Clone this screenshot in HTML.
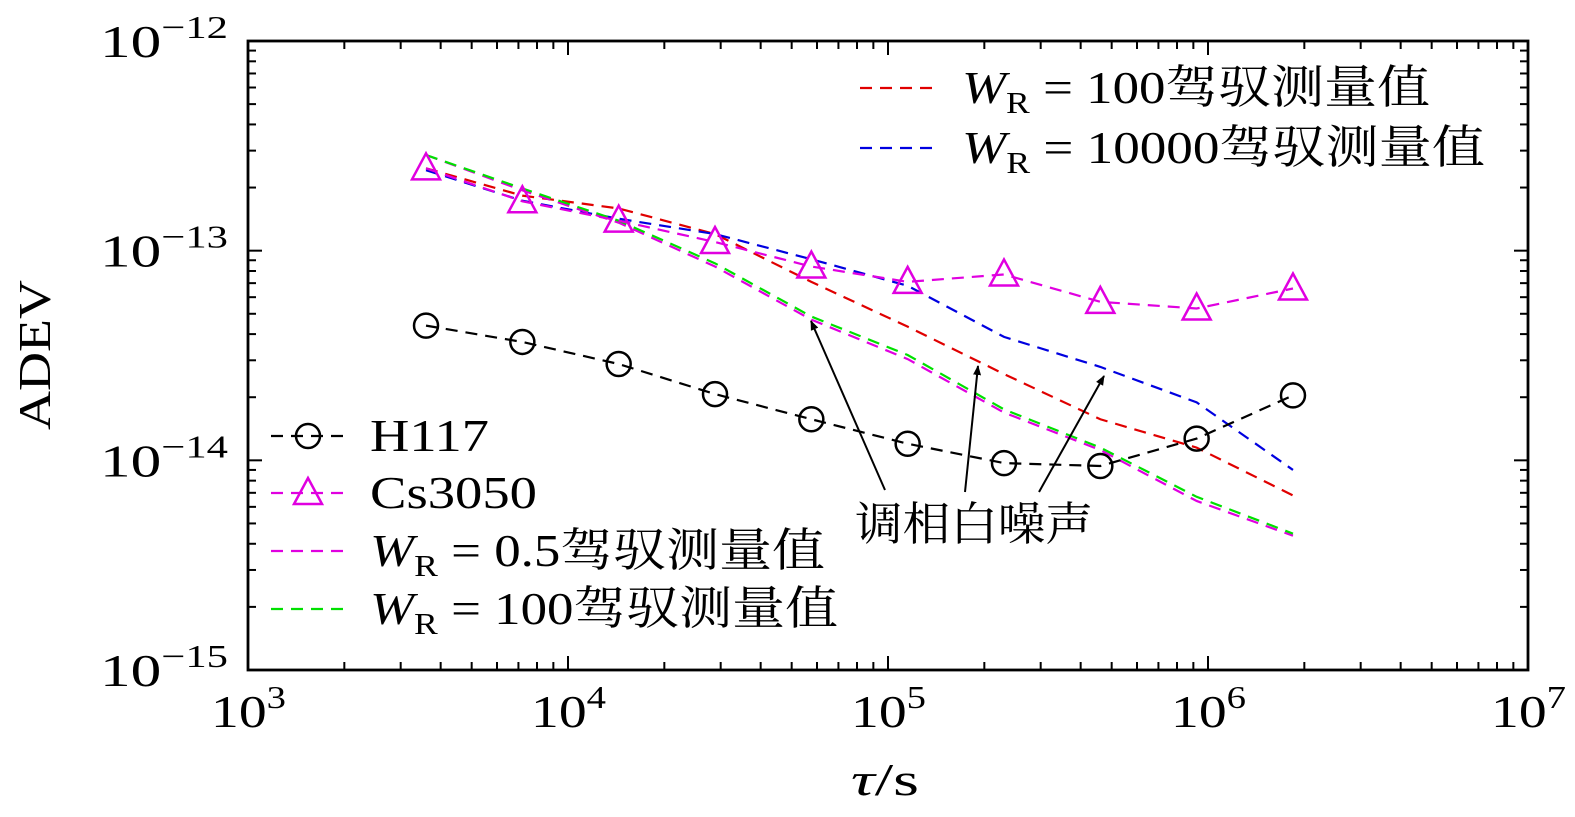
<!DOCTYPE html>
<html><head><meta charset="utf-8"><style>
html,body{margin:0;padding:0;background:#fff;overflow:hidden;}
svg{display:block;}
svg text{font-family:"Liberation Serif","Noto Serif CJK SC",serif;fill:#000;}
</style></head><body>
<svg id="chart" width="1575" height="817" viewBox="0 0 1575 817" xmlns="http://www.w3.org/2000/svg">
<defs><marker id="ah" markerWidth="10" markerHeight="10" refX="9" refY="5" orient="auto" markerUnits="userSpaceOnUse" viewBox="0 0 10 10"><path d="M0,1 L10,5 L0,9 Z" fill="#000"/></marker></defs>
<g id="plot"></g>
</svg>
<script>
const taus=[3600,7200,14400,28800,57600,115200,230400,460800,921600,1843200];
const h117=[4.39e-14,3.67e-14,2.88e-14,2.07e-14,1.57e-14,1.20e-14,9.7e-15,9.4e-15,1.27e-14,2.04e-14];
const cs3050=[2.47e-13,1.72e-13,1.39e-13,1.10e-13,8.4e-14,7.1e-14,7.7e-14,5.7e-14,5.3e-14,6.6e-14];
const wr100red=[2.47e-13,1.83e-13,1.59e-13,1.20e-13,7.1e-14,4.34e-14,2.58e-14,1.57e-14,1.15e-14,6.8e-15];
const wr10000=[2.42e-13,1.73e-13,1.42e-13,1.20e-13,9.1e-14,6.8e-14,3.88e-14,2.79e-14,1.89e-14,9.0e-15];
const wr05=[2.86e-13,1.94e-13,1.36e-13,8.4e-14,4.69e-14,3.04e-14,1.69e-14,1.12e-14,6.4e-15,4.37e-15];
const wr100green=[2.86e-13,1.98e-13,1.39e-13,8.7e-14,4.85e-14,3.18e-14,1.75e-14,1.15e-14,6.7e-15,4.47e-15];
const xTickExp=[3,4,5,6,7];
const yTickExp=[-12,-13,-14,-15];

const L=248,R=1528,T=41,B=670;
const X=v=>L+(Math.log10(v)-3)/4*(R-L);
const Y=v=>T+(-12-Math.log10(v))/3*(B-T);
const NS="http://www.w3.org/2000/svg";
const g=document.getElementById('plot');
function mk(tag,attrs,parent){const e=document.createElementNS(NS,tag);for(const k in attrs)e.setAttribute(k,attrs[k]);(parent||g).appendChild(e);return e;}

const fr=mk('rect',{x:L,y:T,width:R-L,height:B-T,fill:'none',stroke:'#000','stroke-width':2.8});



for(let d=3;d<7;d++){for(let m=1;m<10;m++){const v=m*Math.pow(10,d);const x=X(v);const len=m===1?14:8;
 mk('line',{x1:x,y1:B,x2:x,y2:B-len,stroke:'#000','stroke-width':2});
 mk('line',{x1:x,y1:T,x2:x,y2:T+len,stroke:'#000','stroke-width':2});}}
xTickExp.forEach(e=>{const x=X(Math.pow(10,e));const t=mk('text',{x:x-37,y:727,'font-size':46,textLength:75,lengthAdjust:'spacingAndGlyphs'});
 
 
 t.innerHTML='10<tspan dy="-19" font-size="32">'+e+'</tspan>';});
for(let d=-15;d<-12;d++){for(let m=1;m<10;m++){const v=m*Math.pow(10,d);const y=Y(v);const len=m===1?14:8;
 mk('line',{x1:L,y1:y,x2:L+len,y2:y,stroke:'#000','stroke-width':2});
 mk('line',{x1:R,y1:y,x2:R-len,y2:y,stroke:'#000','stroke-width':2});}}
yTickExp.forEach(e=>{const y=Y(Math.pow(10,e));const t=mk('text',{x:100,y:y+16,'font-size':46,textLength:128,lengthAdjust:'spacingAndGlyphs'});
 
 
 t.innerHTML='10<tspan dy="-19" font-size="32">−'+(-e)+'</tspan>';});

const xt=mk('text',{x:851,y:795,'font-size':46,textLength:68,lengthAdjust:'spacingAndGlyphs'});


xt.innerHTML='<tspan font-style="italic">τ</tspan>/s';
const yt=mk('text',{x:0,y:0,'font-size':46,textLength:150,lengthAdjust:'spacingAndGlyphs',transform:'translate(50,430) rotate(-90)'});


yt.textContent='ADEV';

function line(vals,color,name){const p=mk('polyline',{points:taus.map((t,i)=>X(t)+','+Y(vals[i])).join(' '),fill:'none',stroke:color,'stroke-width':2.2,'stroke-dasharray':'12,8'});
 
 }
line(wr100red,'#e00000','series-wr100-red');
line(wr10000,'#0000e0','series-wr10000');
line(wr05,'#e000e0','series-wr0.5');
line(wr100green,'#00e000','series-wr100-green');
line(h117,'#000','series-h117');
line(cs3050,'#e000e0','series-cs3050');
taus.forEach((t,i)=>{const c=mk('circle',{cx:X(t),cy:Y(h117[i]),r:12,fill:'none',stroke:'#000','stroke-width':2.5});
 
 });
function tri(x,y,parent){return mk('polygon',{points:`${x},${y-15} ${x-14},${y+11} ${x+14},${y+11}`,fill:'none',stroke:'#e000e0','stroke-width':2.5},parent);}
taus.forEach((t,i)=>{const p=tri(X(t),Y(cs3050[i]));
 
 });

const ann=mk('text',{x:855,y:540,'font-size':46,textLength:238,lengthAdjust:'spacingAndGlyphs'});


ann.textContent='调相白噪声';
[[885,490,811,321],[965,492,978,366],[1039,492,1104,376]].forEach(a=>{const l=mk('line',{x1:a[0],y1:a[1],x2:a[2],y2:a[3],stroke:'#000','stroke-width':2,'marker-end':'url(#ah)'});
 
 });

function legendLabel(x,y,pre,rest,name,w){const t=mk('text',{x:x,y:y,'font-size':46,textLength:w,lengthAdjust:'spacingAndGlyphs'});
 
 
 t.innerHTML=pre?'<tspan font-style="italic">W</tspan><tspan dy="10" font-size="31">R</tspan><tspan dy="-10">  =  '+rest+'</tspan>':rest;
 if(pre)t.setAttribute('xml:space','preserve');}
function legLine(x1,x2,y,color){mk('line',{x1:x1,y1:y,x2:x2,y2:y,stroke:color,'stroke-width':2.2,'stroke-dasharray':'12,8'});}
legLine(860,935,88,'#e00000');legendLabel(962,103,true,'100驾驭测量值','legend-entry-wr100-red',468);
legLine(860,935,148,'#0000e0');legendLabel(962,163,true,'10000驾驭测量值','legend-entry-wr10000',523);
legLine(271,346,436,'#000');mk('circle',{cx:308,cy:436,r:12,fill:'none',stroke:'#000','stroke-width':2.5});legendLabel(370,451,false,'H117','legend-entry-h117',119);
legLine(271,346,493,'#e000e0');tri(308,493);legendLabel(370,508,false,'Cs3050','legend-entry-cs3050',167);
legLine(271,346,551,'#e000e0');legendLabel(370,566,true,'0.5驾驭测量值','legend-entry-wr0.5',455);
legLine(271,346,609,'#00e000');legendLabel(370,624,true,'100驾驭测量值','legend-entry-wr100-green',468);
</script>
</body></html>
